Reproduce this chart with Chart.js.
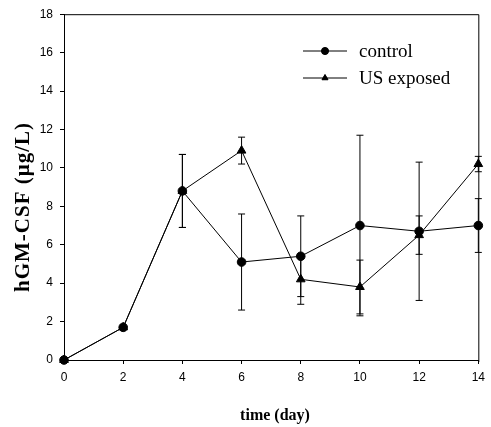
<!DOCTYPE html>
<html>
<head>
<meta charset="utf-8">
<script src="https://cdn.jsdelivr.net/npm/chart.js@4"></script>
<style>
  body { margin: 0; background: #fff; }
  canvas { display: block; }
</style>
</head>
<body>
<canvas id="stage" width="491" height="427"></canvas>
<script>
// data (mean and error bar half-length)
const days = [0, 2, 4, 6, 8, 10, 12, 14];
const controlMean = [0, 1.7, 8.8, 5.1, 5.4, 7.0, 6.7, 7.0];
const controlErr  = [0, 0, 1.9, 2.5, 2.1, 4.7, 3.6, 1.4];
const usMean = [0, 1.7, 8.8, 10.9, 4.2, 3.8, 6.5, 10.2];
const usErr  = [0, 0, 1.9, 0.7, 1.3, 1.4, 1.0, 0.4];
const xTicks = [0, 2, 4, 6, 8, 10, 12, 14];
const yTicks = [0, 2, 4, 6, 8, 10, 12, 14, 16, 18];

const serif = '"Liberation Serif", "Times New Roman", serif';
const sans = '"Liberation Sans", Arial, sans-serif';

function pts(means) {
  return days.map((d, i) => ({ x: d, y: means[i] }));
}

// error bars with caps, drawn under the markers
const errorBars = {
  id: 'errorBars',
  beforeDatasetsDraw(chart) {
    const ctx = chart.ctx;
    const xs = chart.scales.x, ys = chart.scales.y;
    ctx.save();
    ctx.strokeStyle = '#000';
    ctx.lineWidth = 1;
    chart.data.datasets.forEach(ds => {
      ds.errors.forEach((e, i) => {
        if (!e) return;
        const px = xs.getPixelForValue(days[i]);
        const top = ys.getPixelForValue(ds.data[i].y + e);
        const bot = ys.getPixelForValue(ds.data[i].y - e);
        ctx.beginPath();
        ctx.moveTo(px, top); ctx.lineTo(px, bot);
        ctx.moveTo(px - 3.5, top); ctx.lineTo(px + 3.5, top);
        ctx.moveTo(px - 3.5, bot); ctx.lineTo(px + 3.5, bot);
        ctx.stroke();
      });
    });
    ctx.restore();
  }
};

// box, titles and legend
const extras = {
  id: 'extras',
  afterDraw(chart) {
    const ctx = chart.ctx;
    const a = chart.chartArea;
    ctx.save();
    ctx.strokeStyle = '#000';
    ctx.lineWidth = 1;
    ctx.beginPath();
    ctx.moveTo(a.left, a.top + 0.5); ctx.lineTo(a.right + 0.5, a.top + 0.5);
    ctx.lineTo(a.right + 0.5, a.bottom + 2);
    ctx.stroke();

    ctx.fillStyle = '#000';
    ctx.textAlign = 'center';
    ctx.textBaseline = 'middle';
    ctx.font = 'bold 16px ' + serif;
    ctx.fillText('time (day)', 275, 416);

    ctx.save();
    ctx.translate(24, 207);
    ctx.rotate(-Math.PI / 2);
    ctx.font = 'bold 21px ' + serif;
    ctx.letterSpacing = '1px';
    ctx.fillText('hGM-CSF (\u03bcg/L)', 0, 0);
    ctx.restore();

    // legend
    ctx.textAlign = 'left';
    ctx.textBaseline = 'alphabetic';
    ctx.font = '19px ' + serif;
    const rows = [51, 78];
    chart.data.datasets.forEach((ds, k) => {
      const y = rows[k];
      ctx.beginPath();
      ctx.moveTo(303, y); ctx.lineTo(347, y);
      ctx.stroke();
      Chart.helpers.drawPoint(ctx, { pointStyle: ds.pointStyle, radius: 3.5, rotation: 0, borderWidth: 1 }, 325, y);
      ctx.fillStyle = '#000';
      ctx.fill();
      ctx.fillText(ds.label, 359, y + 6);
    });
    ctx.restore();
  }
};

new Chart(document.getElementById('stage'), {
  type: 'line',
  data: {
    datasets: [{
      label: 'control',
      data: pts(controlMean),
      errors: controlErr,
      borderColor: '#000',
      borderWidth: 1,
      backgroundColor: '#000',
      pointStyle: 'circle',
      pointRadius: 4.3,
      pointBackgroundColor: '#000',
      pointBorderColor: '#000',
      clip: false,
      tension: 0
    }, {
      label: 'US exposed',
      data: pts(usMean),
      errors: usErr,
      borderColor: '#000',
      borderWidth: 1,
      backgroundColor: '#000',
      pointStyle: 'triangle',
      pointRadius: 5,
      pointBackgroundColor: '#000',
      pointBorderColor: '#000',
      clip: false,
      tension: 0
    }]
  },
  options: {
    responsive: false,
    animation: false,
    layout: { padding: { top: 10, right: 11, left: 0, bottom: 0 } },
    plugins: {
      legend: { display: false },
      tooltip: { enabled: false }
    },
    scales: {
      x: {
        type: 'linear',
        min: xTicks[0],
        max: xTicks[xTicks.length - 1],
        afterFit: s => { s.height = 67; },
        afterBuildTicks: s => { s.ticks = xTicks.map(v => ({ value: v })); },
        grid: { drawOnChartArea: false, drawTicks: true, tickLength: 4, color: '#000' },
        border: { display: true, color: '#000', width: 1 },
        ticks: { color: '#000', padding: 6, maxRotation: 0, font: { family: sans, size: 12 } }
      },
      y: {
        min: yTicks[0],
        max: yTicks[yTicks.length - 1],
        afterFit: s => { s.width = 64; },
        afterBuildTicks: s => { s.ticks = yTicks.map(v => ({ value: v })); },
        grid: { drawOnChartArea: false, drawTicks: true, tickLength: 4, color: '#000' },
        border: { display: true, color: '#000', width: 1 },
        ticks: { color: '#000', padding: 7, font: { family: sans, size: 12 } }
      }
    }
  },
  plugins: [errorBars, extras]
});
</script>
</body>
</html>
